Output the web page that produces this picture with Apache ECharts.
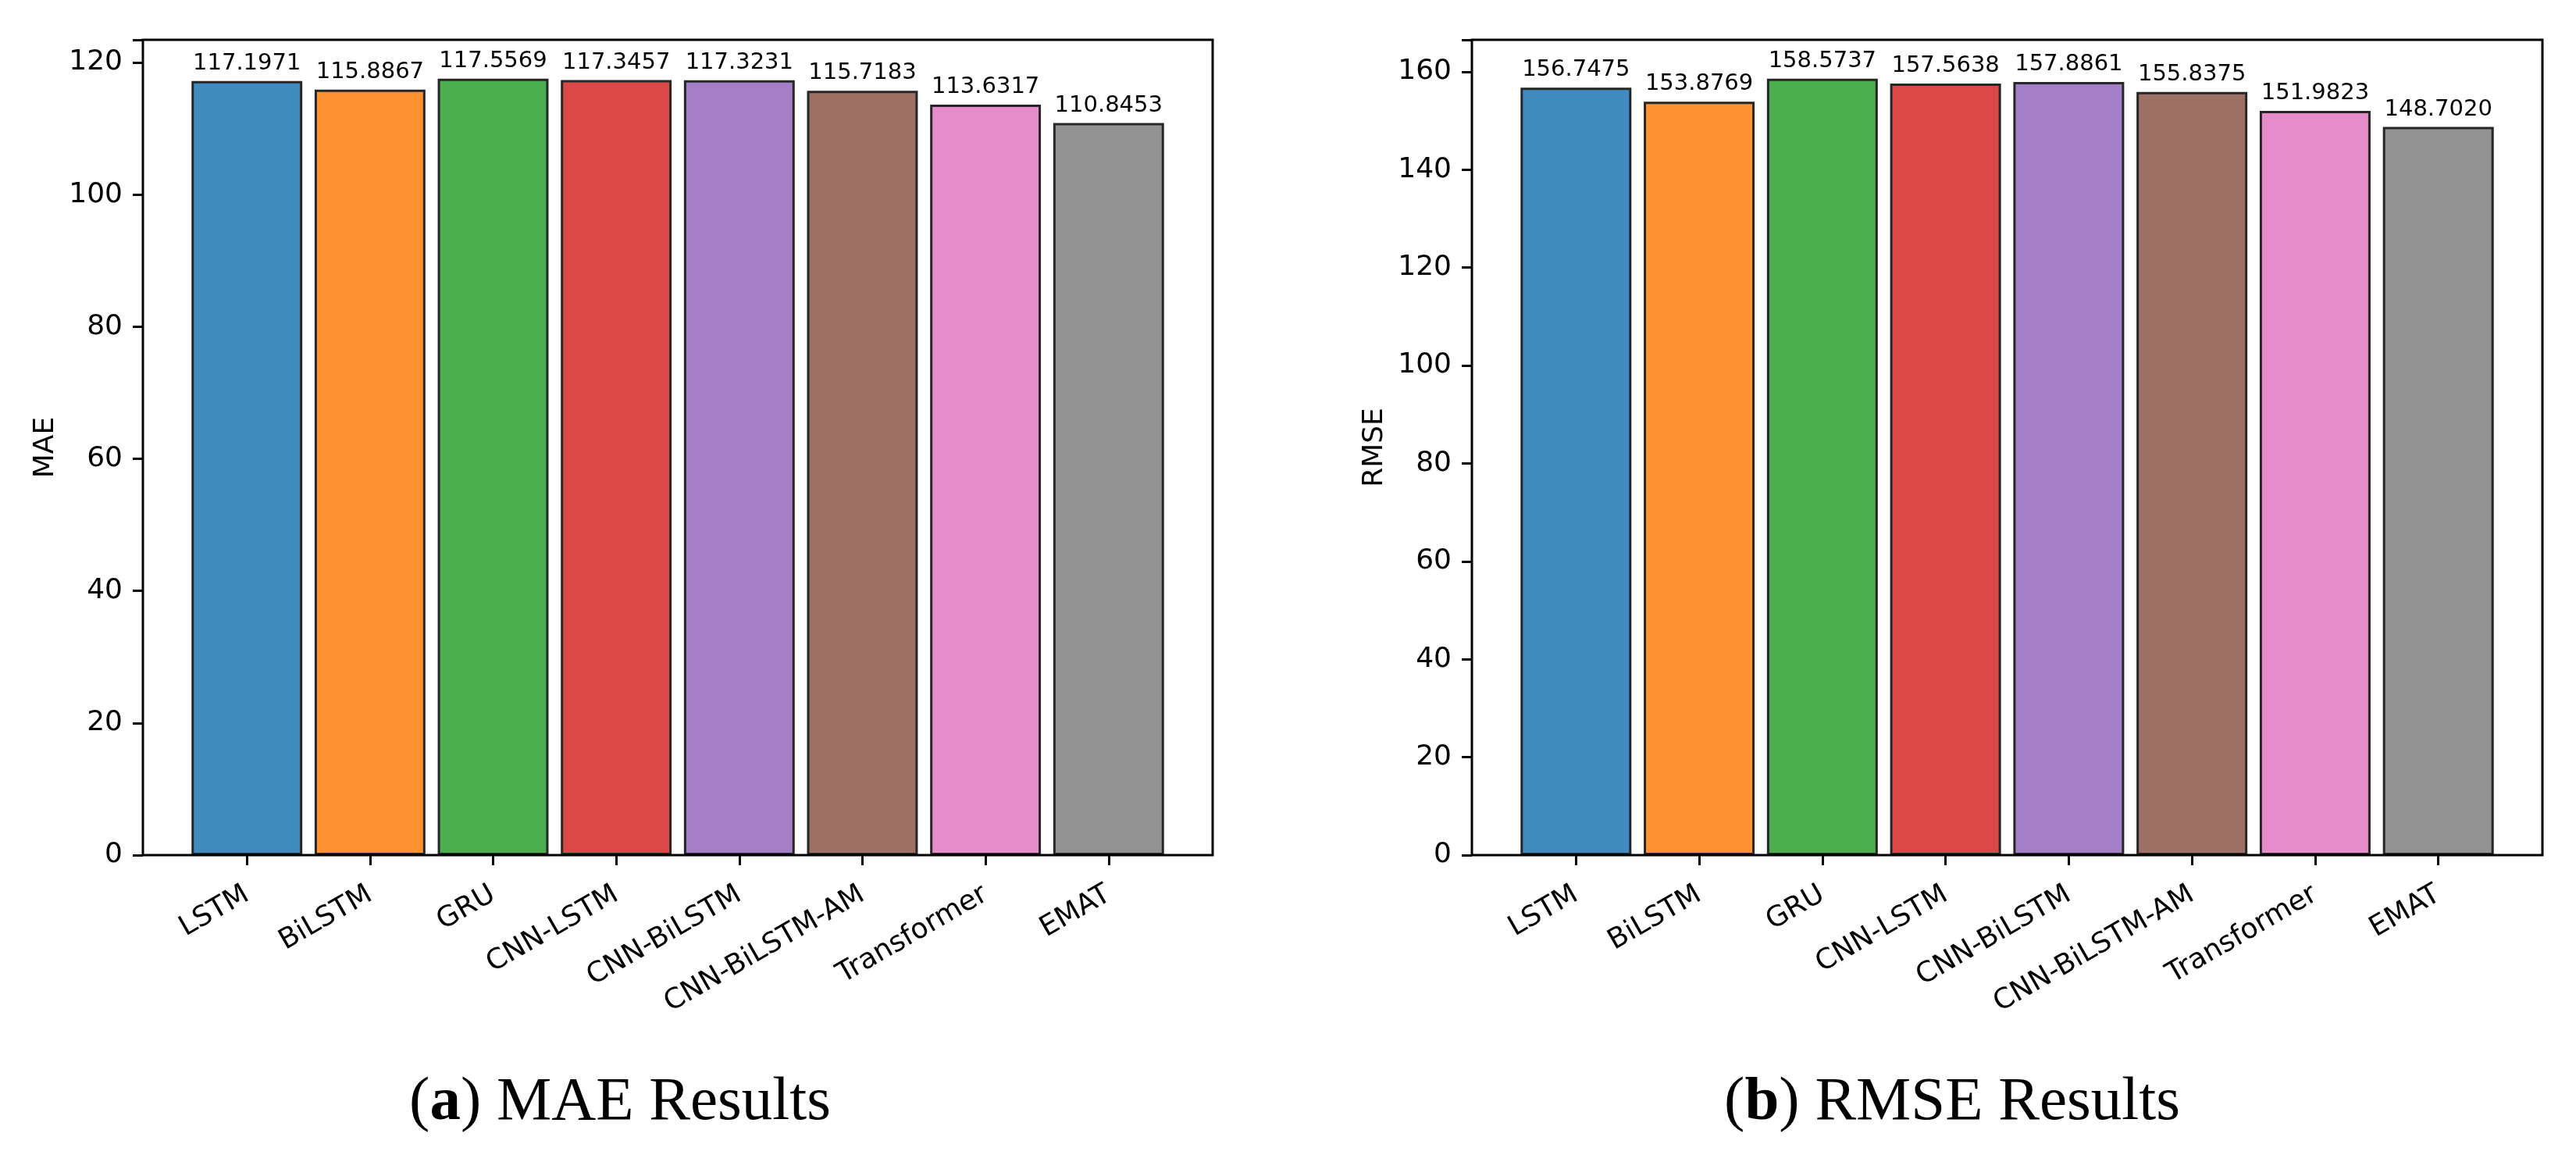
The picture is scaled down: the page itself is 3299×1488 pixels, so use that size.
<!DOCTYPE html>
<html>
<head>
<meta charset="utf-8">
<script src="https://cdn.jsdelivr.net/npm/echarts@6/dist/echarts.min.js"></script>
<style>
html,body{margin:0;padding:0;background:#fff;}
#c{width:3299px;height:1488px;}
</style>
</head>
<body>
<div id="c"></div>
<script>
const categories = ['LSTM','BiLSTM','GRU','CNN-LSTM','CNN-BiLSTM','CNN-BiLSTM-AM','Transformer','EMAT'];
const maeValues = [117.1971,115.8867,117.5569,117.3457,117.3231,115.7183,113.6317,110.8453];
const rmseValues = [156.7475,153.8769,158.5737,157.5638,157.8861,155.8375,151.9823,148.7020];
const maeTicks = [0,20,40,60,80,100,120];
const rmseTicks = [0,20,40,60,80,100,120,140,160];
const barColors = ['#418bbf','#ff9232','#4cae4c','#dc4748','#a47ec7','#9d7066','#e78ccb','#929292'];

const W = 3299, H = 1488;
const frames = [
  {x0:183, x1:1553, y0:51, y1:1095},
  {x0:1885, x1:3256, y0:51, y1:1095}
];
const TF = 'DejaVu Sans';

function makeGrid(f){
  const span = f.x1 - f.x0;
  const inner = span * 8 / 8.69;
  const pad = (span - inner) / 2;
  return {left: f.x0 + pad, right: W - f.x1 + pad, top: f.y0, bottom: H - f.y1, containLabel:false};
}

const chart = echarts.init(document.getElementById('c'), null, {renderer:'canvas'});

function xAxisCfg(i){
  return {
    type:'category', gridIndex:i, data:categories,
    axisLine:{show:false},
    axisTick:{show:true, alignWithLabel:true, length:13, lineStyle:{color:'#000', width:3}},
    axisLabel:{rotate:30, margin:48, color:'#000', fontFamily:TF, fontSize:36, interval:0},
    splitLine:{show:false}
  };
}
function yAxisCfg(i, name, maxV, ticks, f){
  const g = makeGrid(f);
  return {
    type:'value', gridIndex:i, min:0, max:maxV, interval:20,
    offset: g.left - f.x0,
    name:name, nameLocation:'middle', nameGap:106, nameRotate:90,
    nameTextStyle:{color:'#000', fontFamily:TF, fontSize:36},
    axisLine:{show:false},
    axisTick:{show:true, length:13, lineStyle:{color:'#000', width:3}},
    axisLabel:{margin:26, color:'#000', fontFamily:TF, fontSize:36,
      formatter: v => ticks.indexOf(v) >= 0 ? String(v) : ''},
    splitLine:{show:false}
  };
}
function seriesCfg(i, vals){
  return {
    type:'bar', xAxisIndex:i, yAxisIndex:i,
    barCategoryGap:'10%',
    data: vals.map((v,k)=>({value:v, itemStyle:{color:barColors[k]}})),
    itemStyle:{borderColor:'#262626', borderWidth:3},
    label:{show:true, position:'top', distance:8, color:'#000', fontFamily:TF, fontSize:29,
      formatter: p => p.value.toFixed(4)},
    animation:false
  };
}

const maeMax = Math.max(...maeValues) * 1.05;
const rmseMax = Math.max(...rmseValues) * 1.05;

const capStyle = {fontFamily:'Liberation Serif', fontSize:79, fontWeight:'normal', color:'#000',
  rich:{b:{fontFamily:'Liberation Serif', fontSize:79, fontWeight:'bold', color:'#000'}}};

const option = {
  animation:false,
  backgroundColor:'#fff',
  grid:[makeGrid(frames[0]), makeGrid(frames[1])],
  xAxis:[xAxisCfg(0), xAxisCfg(1)],
  yAxis:[yAxisCfg(0,'MAE',maeMax,maeTicks,frames[0]), yAxisCfg(1,'RMSE',rmseMax,rmseTicks,frames[1])],
  series:[seriesCfg(0, maeValues), seriesCfg(1, rmseValues)],
  title:[
    {text:'({b|a}) MAE Results', left:789, top:1368, textAlign:'center', textStyle:capStyle},
    {text:'({b|b}) RMSE Results', left:2495, top:1368, textAlign:'center', textStyle:capStyle}
  ],
  graphic: frames.map(f => ({
    type:'rect', silent:true, z:10,
    shape:{x:f.x0, y:f.y0, width:f.x1-f.x0, height:f.y1-f.y0},
    style:{fill:'none', stroke:'#000', lineWidth:3}
  }))
};
chart.setOption(option);
</script>
</body>
</html>
